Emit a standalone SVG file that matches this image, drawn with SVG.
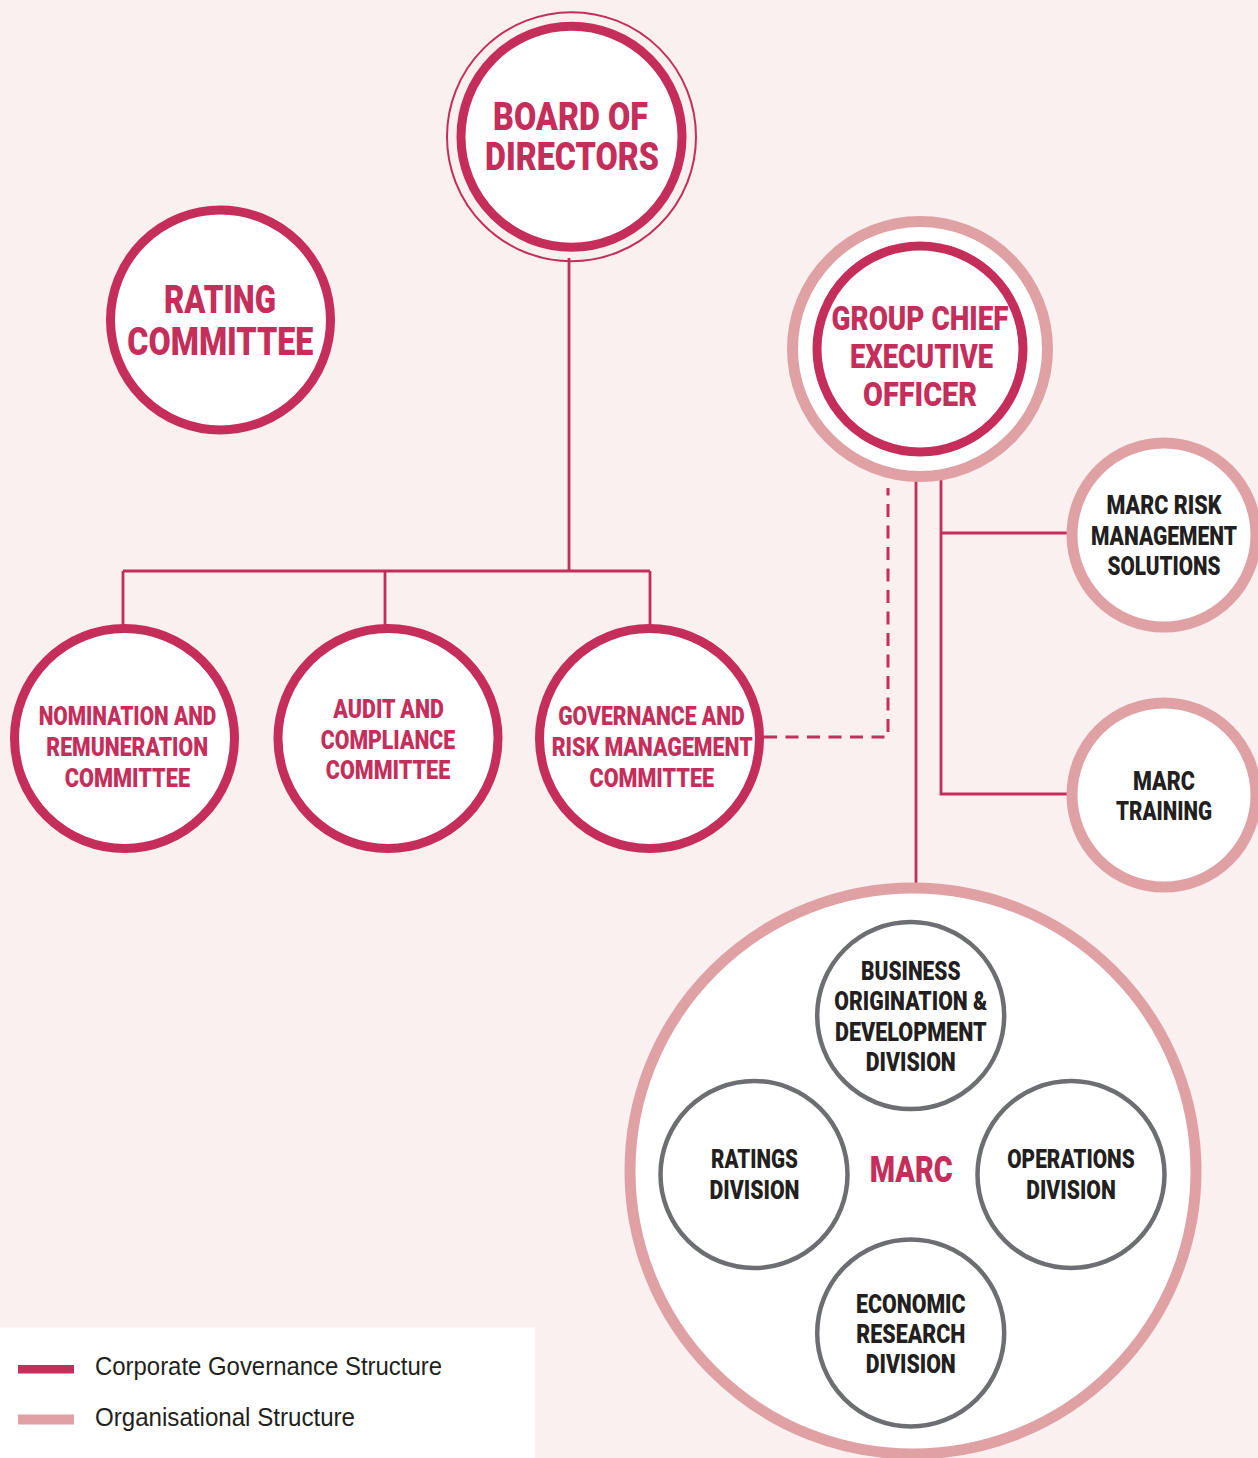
<svg xmlns="http://www.w3.org/2000/svg" width="1258" height="1458" viewBox="0 0 1258 1458">
<style>
.bg{fill:#f9f0ef}
.cg{fill:#fff;stroke:#c52e5b;stroke-width:9}
.og{fill:#fff;stroke:#e0a1a5;stroke-width:11}
.dv{fill:#fff;stroke:#6d6e71;stroke-width:4.5}
.ln{fill:none;stroke:#c52e5b;stroke-width:2.8}
.dash{fill:none;stroke:#c52e5b;stroke-width:3;stroke-dasharray:13 8.5}
.t{font-family:Roboto,"Liberation Sans",Arial,sans-serif;font-weight:900;text-anchor:middle}
.red{fill:#c52e5b}
.blk{fill:#231f20}
.lg{font-family:"Liberation Sans",Arial,sans-serif;font-size:25px;fill:#231f20}
</style>
<rect class="bg" x="0" y="0" width="1258" height="1458"/>

<g id="connectors">
  <path class="ln" d="M569 258 V571 M123 571 H650 M123 571 V628 M385 571 V628 M650 571 V628"/>
  <path class="dash" d="M764 737 H888 V488"/>
  <path class="ln" d="M916 478 V888"/>
  <path class="ln" d="M941 478 V794 H1070 M941 533 H1070"/>
</g>

<g id="board">
  <circle cx="571.5" cy="136.7" r="124.5" fill="none" stroke="#c52e5b" stroke-width="2"/>
  <circle class="cg" cx="571.5" cy="136.7" r="110.5"/>
  <text class="t red" font-size="39"><tspan x="570.5" y="130" textLength="155" lengthAdjust="spacingAndGlyphs">BOARD OF</tspan><tspan x="572" y="170" textLength="174" lengthAdjust="spacingAndGlyphs">DIRECTORS</tspan></text>
</g>

<g id="rating">
  <circle class="cg" cx="220.5" cy="320" r="110"/>
  <text class="t red" font-size="38"><tspan x="220" y="313" textLength="112" lengthAdjust="spacingAndGlyphs">RATING</tspan><tspan x="220.3" y="355" textLength="186" lengthAdjust="spacingAndGlyphs">COMMITTEE</tspan></text>
</g>

<g id="gceo">
  <circle class="og" cx="920" cy="349" r="127.5"/>
  <circle class="cg" cx="920" cy="349" r="103" stroke-width="10"/>
  <text class="t red" font-size="33"><tspan x="920" y="330" textLength="177" lengthAdjust="spacingAndGlyphs">GROUP CHIEF</tspan><tspan x="921.5" y="368" textLength="143" lengthAdjust="spacingAndGlyphs">EXECUTIVE</tspan><tspan x="920" y="406" textLength="114" lengthAdjust="spacingAndGlyphs">OFFICER</tspan></text>
</g>

<g id="nomination">
  <circle class="cg" cx="124.5" cy="738.5" r="110"/>
  <text class="t red" font-size="26"><tspan x="127.5" y="725" textLength="177.6" lengthAdjust="spacingAndGlyphs">NOMINATION AND</tspan><tspan x="127.2" y="756" textLength="161.7" lengthAdjust="spacingAndGlyphs">REMUNERATION</tspan><tspan x="127.4" y="787" textLength="125.4" lengthAdjust="spacingAndGlyphs">COMMITTEE</tspan></text>
</g>

<g id="audit">
  <circle class="cg" cx="388" cy="738.5" r="110"/>
  <text class="t red" font-size="26"><tspan x="388.6" y="718" textLength="110.5" lengthAdjust="spacingAndGlyphs">AUDIT AND</tspan><tspan x="388" y="749" textLength="134.3" lengthAdjust="spacingAndGlyphs">COMPLIANCE</tspan><tspan x="388" y="779" textLength="124.4" lengthAdjust="spacingAndGlyphs">COMMITTEE</tspan></text>
</g>

<g id="governance">
  <circle class="cg" cx="649.5" cy="738.5" r="110"/>
  <text class="t red" font-size="26"><tspan x="651.5" y="725" textLength="186.6" lengthAdjust="spacingAndGlyphs">GOVERNANCE AND</tspan><tspan x="652.2" y="756" textLength="201" lengthAdjust="spacingAndGlyphs">RISK MANAGEMENT</tspan><tspan x="651.8" y="787" textLength="124.4" lengthAdjust="spacingAndGlyphs">COMMITTEE</tspan></text>
</g>

<g id="mrms">
  <circle class="og" cx="1164" cy="535" r="92"/>
  <text class="t blk" font-size="26"><tspan x="1164" y="514" textLength="115" lengthAdjust="spacingAndGlyphs">MARC RISK</tspan><tspan x="1164" y="545" textLength="146" lengthAdjust="spacingAndGlyphs">MANAGEMENT</tspan><tspan x="1164" y="575" textLength="113" lengthAdjust="spacingAndGlyphs">SOLUTIONS</tspan></text>
</g>

<g id="training">
  <circle class="og" cx="1164" cy="795" r="92"/>
  <text class="t blk" font-size="26"><tspan x="1164" y="790" textLength="62" lengthAdjust="spacingAndGlyphs">MARC</tspan><tspan x="1164" y="820" textLength="96" lengthAdjust="spacingAndGlyphs">TRAINING</tspan></text>
</g>

<g id="marc">
  <circle class="og" cx="913" cy="1171" r="283" stroke-width="10"/>
  <text class="t red" font-size="36"><tspan x="911.3" y="1181.5" textLength="83" lengthAdjust="spacingAndGlyphs">MARC</tspan></text>
</g>

<g id="business">
  <circle class="dv" cx="910.7" cy="1015.6" r="93.5"/>
  <text class="t blk" font-size="25"><tspan x="910.8" y="980" textLength="99.5" lengthAdjust="spacingAndGlyphs">BUSINESS</tspan><tspan x="910.8" y="1010" textLength="153" lengthAdjust="spacingAndGlyphs">ORIGINATION &amp;</tspan><tspan x="910.8" y="1040.5" textLength="151.5" lengthAdjust="spacingAndGlyphs">DEVELOPMENT</tspan><tspan x="910.8" y="1071" textLength="90" lengthAdjust="spacingAndGlyphs">DIVISION</tspan></text>
</g>

<g id="ratings">
  <circle class="dv" cx="754" cy="1174.5" r="93.5"/>
  <text class="t blk" font-size="25"><tspan x="754.5" y="1168" textLength="87" lengthAdjust="spacingAndGlyphs">RATINGS</tspan><tspan x="754.5" y="1199" textLength="90" lengthAdjust="spacingAndGlyphs">DIVISION</tspan></text>
</g>

<g id="operations">
  <circle class="dv" cx="1071" cy="1174.5" r="93.5"/>
  <text class="t blk" font-size="25"><tspan x="1071" y="1168" textLength="127.5" lengthAdjust="spacingAndGlyphs">OPERATIONS</tspan><tspan x="1071" y="1199" textLength="89.6" lengthAdjust="spacingAndGlyphs">DIVISION</tspan></text>
</g>

<g id="economic">
  <circle class="dv" cx="910.7" cy="1333" r="93.5"/>
  <text class="t blk" font-size="25"><tspan x="910.8" y="1313" textLength="109.5" lengthAdjust="spacingAndGlyphs">ECONOMIC</tspan><tspan x="910.8" y="1343" textLength="109" lengthAdjust="spacingAndGlyphs">RESEARCH</tspan><tspan x="910.8" y="1373" textLength="90" lengthAdjust="spacingAndGlyphs">DIVISION</tspan></text>
</g>

<g id="legend">
  <rect x="0" y="1327.5" width="535" height="131" fill="#fff"/>
  <rect x="18" y="1365" width="56" height="8.5" fill="#c52e5b"/>
  <rect x="18" y="1414.5" width="56" height="10" fill="#e0a1a5"/>
  <text class="lg" x="95" y="1375" textLength="347" lengthAdjust="spacingAndGlyphs">Corporate Governance Structure</text>
  <text class="lg" x="95" y="1426" textLength="260" lengthAdjust="spacingAndGlyphs">Organisational Structure</text>
</g>
</svg>
